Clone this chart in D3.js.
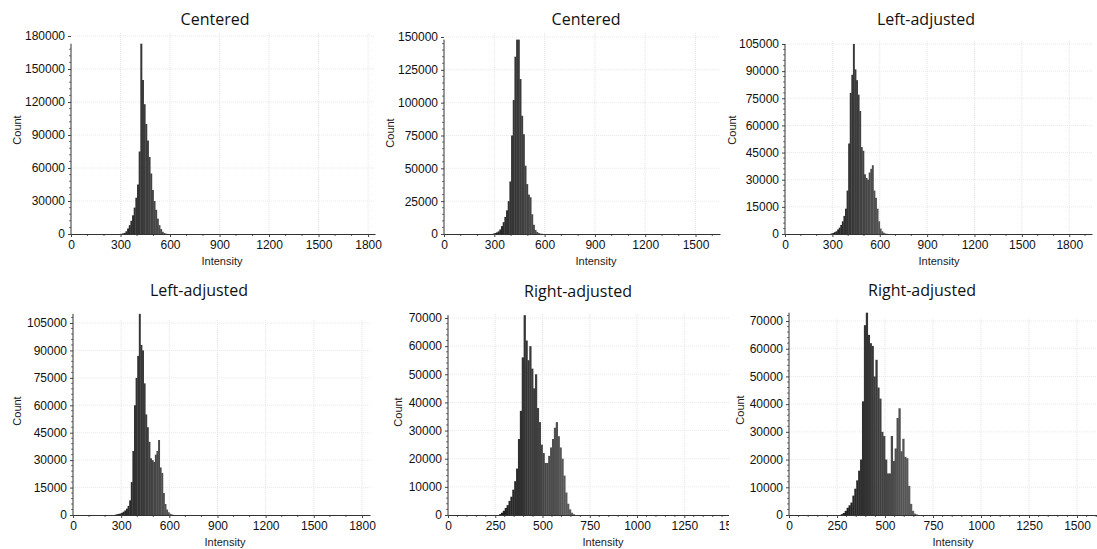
<!DOCTYPE html>
<html>
<head>
<meta charset="utf-8">
<script src="https://cdn.jsdelivr.net/npm/d3@7"></script>
<style>
  body { margin: 0; background: #fff; }
  svg { display: block; }
  .tick text { font-family: "Liberation Sans", Arial, sans-serif; font-size: 12px; fill: #111; }
  .tick line { stroke: #444; }
  .title { font-family: "Open Sans", Lato, sans-serif; font-size: 16px; font-weight: 400; fill: #111; }
  .axisLabel { font-family: "Liberation Sans", Arial, sans-serif; font-size: 11px; fill: #1a1a1a; }
</style>
</head>
<body>
<div id="chart"></div>
<script>
/* histogram bin width, in intensity units */
const BIN = 10;

/* counts per bin, first bin given by *_start */
const centeredA_start = 300;
const centeredA = [200, 500, 1000, 2500, 5000, 8000, 12000, 17000, 24000, 33000, 45000, 75000,
  173000, 140000, 118000, 100000, 85000, 70000, 55000, 40000, 30000, 22000, 14000, 8000, 4500,
  2000, 900, 300, 100];

const centeredB_start = 290;
const centeredB = [300, 700, 1200, 2000, 3500, 6000, 9000, 13000, 18000, 25000, 40000, 75000,
  102000, 135000, 148000, 148000, 118000, 90000, 76000, 52000, 38000, 30000, 28000, 15000, 7000,
  3000, 1500, 700, 300, 100];

const leftA_start = 290;
const leftA = [300, 600, 1000, 1500, 2500, 3500, 5000, 7000, 10000, 14000, 24000, 50000, 78000,
  88000, 105000, 91000, 85000, 77000, 68000, 48000, 46000, 33000, 31000, 30000, 34000, 36000,
  38000, 24000, 20000, 14000, 7000, 3000, 1500, 700, 300, 100];

const leftB_start = 260;
const leftB = [200, 400, 600, 800, 1200, 1800, 2500, 3500, 5000, 8000, 18000, 35000, 60000,
  75000, 87000, 110000, 93000, 90000, 72000, 55000, 48000, 40000, 31000, 30000, 29000, 33000,
  35000, 41000, 26000, 23000, 12000, 6000, 3000, 1500, 700, 300, 100];

const rightA_start = 270;
const rightA = [300, 800, 1500, 2500, 3500, 5000, 6500, 9000, 12000, 16500, 27000, 37000, 56000,
  71000, 62000, 55000, 60000, 52000, 45000, 50000, 38000, 33000, 25000, 22000, 18500, 18500,
  21000, 24000, 27000, 31000, 33000, 28000, 24000, 20000, 14000, 8000, 4000, 2000, 800, 300];

const rightB_start = 270;
const rightB = [300, 700, 1500, 2600, 3500, 4500, 7000, 9500, 12500, 16000, 20000, 41000, 68500,
  73000, 65000, 62000, 61000, 50000, 56000, 46000, 42000, 30000, 28500, 20000, 15000, 15000,
  28500, 19500, 24000, 35000, 38500, 23000, 27500, 21000, 20500, 10500, 4000, 1500, 500, 200];

const titles = ["Centered", "Centered", "Left-adjusted", "Left-adjusted", "Right-adjusted", "Right-adjusted"];

/* tick labels */
const xTicks300 = [0, 300, 600, 900, 1200, 1500, 1800];
const xTicks250 = [0, 250, 500, 750, 1000, 1250, 1500];
const yTicksCenteredA = [0, 30000, 60000, 90000, 120000, 150000, 180000];
const yTicksCenteredB = [0, 25000, 50000, 75000, 100000, 125000, 150000];
const yTicksLeft = [0, 15000, 30000, 45000, 60000, 75000, 90000, 105000];
const yTicksRight = [0, 10000, 20000, 30000, 40000, 50000, 60000, 70000];

/* layout only: pixel boxes of each small chart */
const layout = [
  {x0: 71,  x1: 375,  xMax: 1842, base: 234, top: 36,  yMax: 180000, clip: [0, 0, 385, 272],     title: [215, 25], count: [17, 130],  inten: [222, 265]},
  {x0: 444, x1: 720,  xMax: 1646, base: 234, top: 37,  yMax: 150000, clip: [385, 0, 727, 272],   title: [586, 25], count: [390, 133], inten: [596, 265]},
  {x0: 785, x1: 1092, xMax: 1944, base: 234, top: 44,  yMax: 105000, clip: [727, 0, 1097, 272],  title: [926, 25], count: [732, 130], inten: [939, 265]},
  {x0: 73,  x1: 370,  xMax: 1850, base: 515, top: 323, yMax: 105000, clip: [0, 272, 380, 549],   title: [199, 296], count: [17, 411], inten: [225, 546]},
  {x0: 448, x1: 731,  xMax: 1497, base: 515, top: 318, yMax: 70000,  clip: [380, 272, 729, 549], title: [578, 297], count: [398, 412], inten: [603, 546]},
  {x0: 789, x1: 1097, xMax: 1604, base: 515, top: 321, yMax: 70000,  clip: [729, 272, 1097, 549], title: [922, 296], count: [740, 410], inten: [953, 546]}
];

const series = [
  {start: centeredA_start, counts: centeredA, xt: xTicks300, yt: yTicksCenteredA, minorX: 3},
  {start: centeredB_start, counts: centeredB, xt: xTicks300.slice(0, 6), yt: yTicksCenteredB, minorX: 3},
  {start: leftA_start, counts: leftA, xt: xTicks300, yt: yTicksLeft, minorX: 3},
  {start: leftB_start, counts: leftB, xt: xTicks300, yt: yTicksLeft, minorX: 3},
  {start: rightA_start, counts: rightA, xt: xTicks250, yt: yTicksRight, minorX: 5},
  {start: rightB_start, counts: rightB, xt: xTicks250, yt: yTicksRight, minorX: 5}
];

const svg = d3.select("#chart").append("svg")
  .attr("width", 1097)
  .attr("height", 549);

const defs = svg.append("defs");

/* bars get a bit lighter towards higher intensity, like the original */
const shade = d3.scaleLinear()
  .domain([280, 660])
  .range(["#1e1e1e", "#606060"])
  .clamp(true);

series.forEach((s, i) => {
  const p = layout[i];

  defs.append("clipPath").attr("id", "clip" + i)
    .append("rect")
      .attr("x", p.clip[0])
      .attr("y", p.clip[1])
      .attr("width", p.clip[2] - p.clip[0])
      .attr("height", p.clip[3] - p.clip[1]);

  const g = svg.append("g").attr("clip-path", `url(#clip${i})`);

  const x = d3.scaleLinear().domain([0, p.xMax]).range([p.x0, p.x1]);
  const y = d3.scaleLinear().domain([0, p.yMax]).range([p.base, p.top]);

  const bins = s.counts.map((c, j) => ({lo: s.start + j * BIN, c: c}));
  const maxCount = d3.max(s.counts);

  /* faint dotted grid */
  g.append("g").selectAll("line")
    .data(s.xt.slice(1))
    .join("line")
      .attr("x1", d => x(d)).attr("x2", d => x(d))
      .attr("y1", p.base).attr("y2", p.top - 4)
      .attr("stroke", "#e4e4e4")
      .attr("stroke-dasharray", "1,1");

  g.append("g").selectAll("line")
    .data(s.yt.slice(1))
    .join("line")
      .attr("x1", p.x0).attr("x2", p.x1)
      .attr("y1", d => y(d)).attr("y2", d => y(d))
      .attr("stroke", "#e8e8e8")
      .attr("stroke-dasharray", "1,1");

  /* histogram bars, slightly overlapped so the seams stay faint */
  g.append("g").selectAll("rect")
    .data(bins)
    .join("rect")
      .attr("x", d => x(d.lo))
      .attr("width", d => x(d.lo + BIN) - x(d.lo) + 0.35)
      .attr("y", d => y(d.c))
      .attr("height", d => y(0) - y(d.c))
      .attr("fill", d => shade(d.lo + BIN / 2));

  /* minor ticks */
  const xStep = s.xt[1] / s.minorX;
  const xMinor = d3.range(xStep, p.xMax, xStep).filter(v => Math.abs(v / s.xt[1] - Math.round(v / s.xt[1])) > 1e-6);
  g.append("g").selectAll("line")
    .data(xMinor)
    .join("line")
      .attr("x1", d => x(d)).attr("x2", d => x(d))
      .attr("y1", p.base).attr("y2", p.base + 2)
      .attr("stroke", "#555");

  const yStep = s.yt[1] / 5;
  const yMinor = d3.range(yStep, maxCount, yStep).filter(v => Math.abs(v / s.yt[1] - Math.round(v / s.yt[1])) > 1e-6);
  g.append("g").selectAll("line")
    .data(yMinor)
    .join("line")
      .attr("x1", p.x0 - 2).attr("x2", p.x0)
      .attr("y1", d => y(d)).attr("y2", d => y(d))
      .attr("stroke", "#777");

  /* axes */
  const xAxis = g.append("g")
    .attr("transform", `translate(0,${p.base})`)
    .call(d3.axisBottom(x).tickValues(s.xt).tickSize(3).tickSizeOuter(0).tickPadding(3).tickFormat(d3.format("d")));
  xAxis.select(".domain").attr("stroke", "#333");

  const yAxis = g.append("g")
    .attr("transform", `translate(${p.x0},0)`)
    .call(d3.axisLeft(y).tickValues(s.yt).tickSize(3).tickSizeOuter(0).tickPadding(3).tickFormat(d3.format("d")));
  yAxis.select(".domain").remove();

  /* y axis line only runs up to the tallest bar */
  g.append("line")
    .attr("x1", p.x0).attr("x2", p.x0)
    .attr("y1", p.base).attr("y2", y(Math.max(maxCount, s.yt[s.yt.length - 1] * 0.96)))
    .attr("stroke", "#333");

  /* texts */
  g.append("text")
    .attr("class", "title")
    .attr("x", p.title[0]).attr("y", p.title[1])
    .attr("text-anchor", "middle")
    .text(titles[i]);

  g.append("text")
    .attr("class", "axisLabel")
    .attr("transform", `translate(${p.count[0]},${p.count[1]}) rotate(-90)`)
    .attr("text-anchor", "middle")
    .attr("dy", "0.35em")
    .text("Count");

  g.append("text")
    .attr("class", "axisLabel")
    .attr("x", p.inten[0]).attr("y", p.inten[1])
    .attr("text-anchor", "middle")
    .text("Intensity");
});
</script>
</body>
</html>
